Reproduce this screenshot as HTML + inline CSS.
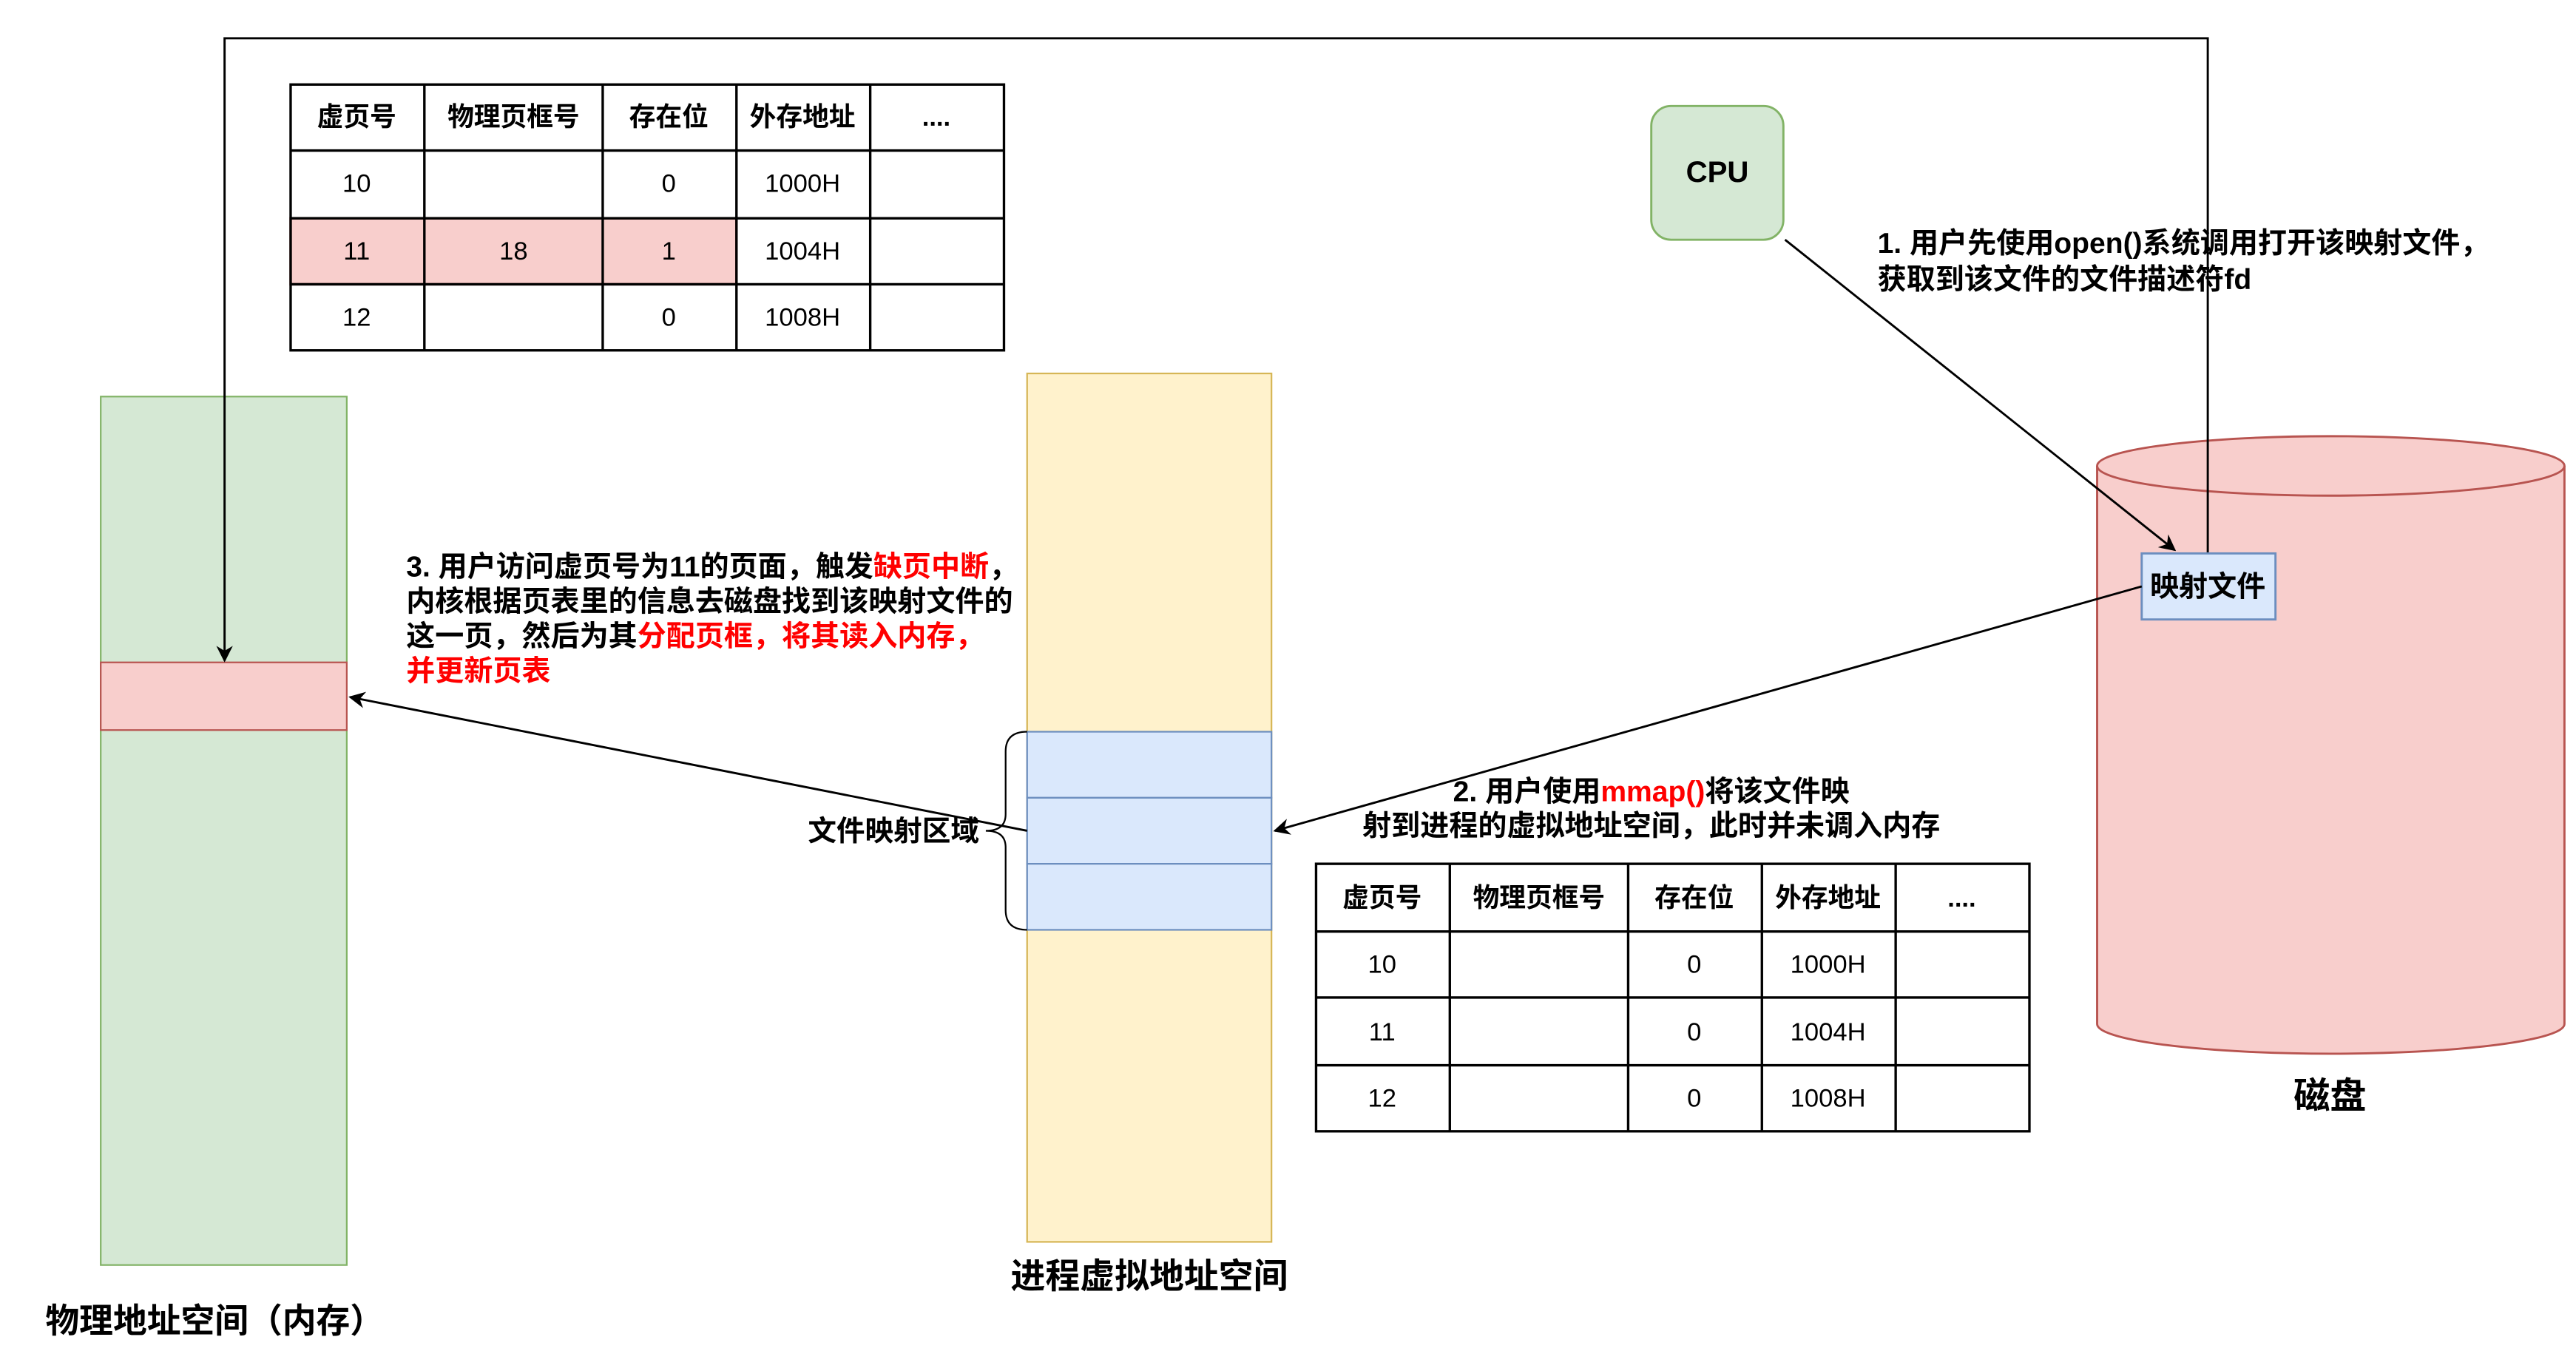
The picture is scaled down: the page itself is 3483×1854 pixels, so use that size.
<!DOCTYPE html>
<html><head><meta charset="utf-8"><style>
html,body{margin:0;padding:0;background:#fff;}
svg{display:block;}
text{font-family:"Liberation Sans","Noto Sans CJK SC",sans-serif;}
.b{font-weight:bold;}
</style></head><body>
<svg width="3483" height="1854" viewBox="0 0 1560 830" xmlns="http://www.w3.org/2000/svg">
<defs>
<marker id="ar" markerWidth="10" markerHeight="10" refX="9" refY="5" orient="auto" markerUnits="userSpaceOnUse">
<path d="M0,0 L10,5 L0,10 L3,5 Z" fill="#000"/>
</marker>
</defs>
<rect width="1560" height="830" fill="#fff"/>

<!-- physical memory column -->
<rect x="61" y="240" width="149" height="526" fill="#d5e8d4" stroke="#82b366" stroke-width="1"/>
<rect x="61" y="401" width="149" height="41" fill="#f8cecc" stroke="#b85450" stroke-width="1"/>
<text x="130" y="807" font-size="20.5" class="b" text-anchor="middle">物理地址空间（内存）</text>

<!-- virtual column -->
<rect x="622" y="226" width="148" height="526" fill="#fff2cc" stroke="#d6b656" stroke-width="1"/>
<rect x="622" y="443" width="148" height="40" fill="#dae8fc" stroke="#6c8ebf" stroke-width="1"/>
<rect x="622" y="483" width="148" height="40" fill="#dae8fc" stroke="#6c8ebf" stroke-width="1"/>
<rect x="622" y="523" width="148" height="40" fill="#dae8fc" stroke="#6c8ebf" stroke-width="1"/>
<text x="696" y="780" font-size="21" class="b" text-anchor="middle">进程虚拟地址空间</text>
<path d="M622,443 Q609,443 609,455 L609,493 Q609,503 597,503 Q609,503 609,513 L609,551 Q609,563 622,563" fill="none" stroke="#000" stroke-width="1"/>
<text x="593" y="509" font-size="17.3" class="b" text-anchor="end">文件映射区域</text>

<!-- table 1 -->
<g stroke="#000" stroke-width="1.5" fill="none">
<rect x="176" y="132" width="270" height="40" fill="#f8cecc" stroke="#b85450"/>
<rect x="176" y="51" width="432" height="161"/>
<line x1="176" y1="91" x2="608" y2="91"/><line x1="176" y1="132" x2="608" y2="132"/><line x1="176" y1="172" x2="608" y2="172"/>
<line x1="257" y1="51" x2="257" y2="212"/><line x1="365" y1="51" x2="365" y2="212"/><line x1="446" y1="51" x2="446" y2="212"/><line x1="527" y1="51" x2="527" y2="212"/>
</g>
<g font-size="15.5" text-anchor="middle">
<text x="216" y="76" class="b" font-size="16">虚页号</text><text x="311" y="76" class="b" font-size="16">物理页框号</text><text x="405" y="76" class="b" font-size="16">存在位</text><text x="486" y="76" class="b" font-size="16">外存地址</text><text x="567" y="76" class="b">....</text>
<text x="216" y="116">10</text><text x="405" y="116">0</text><text x="486" y="116">1000H</text>
<text x="216" y="157">11</text><text x="311" y="157">18</text><text x="405" y="157">1</text><text x="486" y="157">1004H</text>
<text x="216" y="197">12</text><text x="405" y="197">0</text><text x="486" y="197">1008H</text>
</g>

<!-- table 2 -->
<g stroke="#000" stroke-width="1.5" fill="none">
<rect x="797" y="523" width="432" height="162"/>
<line x1="797" y1="564" x2="1229" y2="564"/><line x1="797" y1="604" x2="1229" y2="604"/><line x1="797" y1="645" x2="1229" y2="645"/>
<line x1="878" y1="523" x2="878" y2="685"/><line x1="986" y1="523" x2="986" y2="685"/><line x1="1067" y1="523" x2="1067" y2="685"/><line x1="1148" y1="523" x2="1148" y2="685"/>
</g>
<g font-size="15.5" text-anchor="middle">
<text x="837" y="549" class="b" font-size="16">虚页号</text><text x="932" y="549" class="b" font-size="16">物理页框号</text><text x="1026" y="549" class="b" font-size="16">存在位</text><text x="1107" y="549" class="b" font-size="16">外存地址</text><text x="1188" y="549" class="b">....</text>
<text x="837" y="589">10</text><text x="1026" y="589">0</text><text x="1107" y="589">1000H</text>
<text x="837" y="630">11</text><text x="1026" y="630">0</text><text x="1107" y="630">1004H</text>
<text x="837" y="670">12</text><text x="1026" y="670">0</text><text x="1107" y="670">1008H</text>
</g>

<!-- CPU -->
<rect x="1000" y="64" width="80" height="81" rx="12" fill="#d5e8d4" stroke="#82b366" stroke-width="1.3"/>
<text x="1040" y="110" font-size="18" class="b" text-anchor="middle">CPU</text>

<!-- cylinder -->
<path d="M1270,282 L1270,620 A141.5,18 0 0 0 1553,620 L1553,282" fill="#f8cecc" stroke="#b85450" stroke-width="1.3"/>
<ellipse cx="1411.5" cy="282" rx="141.5" ry="18" fill="#f8cecc" stroke="#b85450" stroke-width="1.3"/>
<text x="1411" y="671" font-size="22" class="b" text-anchor="middle">磁盘</text>

<!-- outer connector -->
<path d="M1337,335 L1337,23 L136,23 L136,400" fill="none" stroke="#000" stroke-width="1.3" marker-end="url(#ar)"/>

<rect x="1297" y="335" width="81" height="40" fill="#dae8fc" stroke="#6c8ebf" stroke-width="1.3"/>
<text x="1337" y="361" font-size="17.5" class="b" text-anchor="middle">映射文件</text>

<!-- arrows -->
<line x1="1081" y1="145" x2="1317" y2="333" stroke="#000" stroke-width="1.3" marker-end="url(#ar)"/>
<line x1="1297" y1="355" x2="772" y2="503" stroke="#000" stroke-width="1.3" marker-end="url(#ar)"/>
<line x1="622" y1="503" x2="212" y2="422" stroke="#000" stroke-width="1.3" marker-end="url(#ar)"/>

<!-- texts -->
<g font-size="17.5" class="b">
<text x="1137" y="153">1. 用户先使用open()系统调用打开该映射文件，</text>
<text x="1137" y="175">获取到该文件的文件描述符fd</text>
<text x="1000" y="485" text-anchor="middle">2. 用户使用<tspan fill="#ff0000">mmap()</tspan>将该文件映</text>
<text x="1000" y="506" text-anchor="middle">射到进程的虚拟地址空间，此时并未调入内存</text>
<text x="246" y="349">3. 用户访问虚页号为11的页面，触发<tspan fill="#ff0000">缺页中断</tspan>，</text>
<text x="246" y="370">内核根据页表里的信息去磁盘找到该映射文件的</text>
<text x="246" y="391">这一页，然后为其<tspan fill="#ff0000">分配页框，将其读入内存，</tspan></text>
<text x="246" y="412" fill="#ff0000">并更新页表</text>
</g>
</svg>
</body></html>
